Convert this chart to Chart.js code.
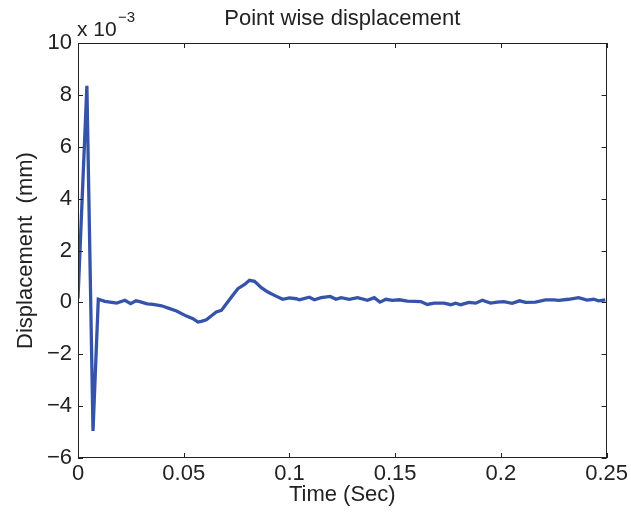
<!DOCTYPE html>
<html lang="en">
<head>
    <meta charset="UTF-8">
    <title>Point wise displacement</title>
    <script src="https://cdn.jsdelivr.net/npm/chart.js"></script>
    <style>
        body { margin: 0; background: #fff; }
        #wrap { width: 631px; height: 519px; }
    </style>
</head>
<body>
    <div id="wrap"><canvas id="dispChart" width="631" height="519"></canvas></div>
    <script>
// time in seconds, displacement in units of 1e-3 mm
const time = [0, 0.0042, 0.0071, 0.0096, 0.0127, 0.0183, 0.0222, 0.0249, 0.0274, 0.0292,
    0.0327, 0.0355, 0.0395, 0.0434, 0.0466, 0.0513, 0.0544, 0.0567, 0.0583, 0.0607,
    0.0654, 0.0678, 0.0693, 0.0725, 0.0756, 0.0788, 0.0811, 0.0835, 0.0867, 0.0898,
    0.0929, 0.0968, 0.1000, 0.1032, 0.1047, 0.1094, 0.1118, 0.1150, 0.1193, 0.1220,
    0.1244, 0.1283, 0.1322, 0.1369, 0.1401, 0.1428, 0.1456, 0.1487, 0.1519, 0.1558,
    0.1621, 0.1652, 0.1684, 0.1731, 0.1763, 0.1786, 0.1810, 0.1849, 0.1881, 0.1912,
    0.1951, 0.1983, 0.2014, 0.2053, 0.2088, 0.2117, 0.2164, 0.2211, 0.2250, 0.2274,
    0.2321, 0.2368, 0.2407, 0.2439, 0.2462, 0.2494];
const displacement = [0.15, 8.35, -4.96, 0.12, 0.04, -0.03, 0.08, -0.05, 0.06, 0.03,
    -0.06, -0.08, -0.13, -0.24, -0.33, -0.53, -0.63, -0.76, -0.73, -0.67,
    -0.37, -0.31, -0.15, 0.2, 0.53, 0.69, 0.85, 0.81, 0.57, 0.4,
    0.27, 0.12, 0.17, 0.14, 0.1, 0.2, 0.1, 0.18, 0.23, 0.12,
    0.18, 0.12, 0.18, 0.08, 0.18, 0.01, 0.12, 0.08, 0.1, 0.05,
    0.03, -0.08, -0.03, -0.03, -0.09, -0.03, -0.09, 0, -0.03, 0.08,
    -0.03, 0.01, 0.03, -0.04, 0.06, 0, 0.01, 0.1, 0.1, 0.08,
    0.12, 0.18, 0.09, 0.12, 0.06, 0.1];

const xTicks = [0, 0.05, 0.1, 0.15, 0.2, 0.25];
const yTicks = [-6, -4, -2, 0, 2, 4, 6, 8, 10];

const FONT = '"Liberation Sans", Arial, Helvetica, sans-serif';

// box with inward ticks on all four sides, like matlab
const boxTicks = {
    id: 'boxTicks',
    afterDatasetsDraw(chart) {
        const { ctx, chartArea: a, scales: { x, y } } = chart;
        const len = 5;
        ctx.save();
        ctx.strokeStyle = '#222';
        ctx.lineWidth = 1;
        ctx.strokeRect(Math.round(a.left) + 0.5, Math.round(a.top) + 0.5,
            Math.round(a.width) - 1, Math.round(a.height) - 1);
        ctx.beginPath();
        xTicks.forEach(v => {
            const px = Math.round(x.getPixelForValue(v)) + 0.5;
            ctx.moveTo(px, a.bottom); ctx.lineTo(px, a.bottom - len);
            ctx.moveTo(px, a.top); ctx.lineTo(px, a.top + len);
        });
        yTicks.forEach(v => {
            const py = Math.round(y.getPixelForValue(v)) + 0.5;
            ctx.moveTo(a.left, py); ctx.lineTo(a.left + len, py);
            ctx.moveTo(a.right, py); ctx.lineTo(a.right - len, py);
        });
        ctx.stroke();
        ctx.restore();
    }
};

// title, axis labels and the exponent note
const labels = {
    id: 'labels',
    afterDraw(chart) {
        const { ctx, chartArea: a } = chart;
        const cx = (a.left + a.right) / 2;
        ctx.save();
        ctx.fillStyle = '#222';
        ctx.textAlign = 'center';
        ctx.textBaseline = 'middle';
        ctx.font = '22px ' + FONT;
        ctx.fillText('Point wise displacement', cx, 19);
        ctx.fillText('Time (Sec)', cx, 495);
        ctx.save();
        ctx.translate(26, (a.top + a.bottom) / 2);
        ctx.rotate(-Math.PI / 2);
        ctx.fillText('Displacement  (mm)', 0, 0);
        ctx.restore();
        ctx.textAlign = 'left';
        ctx.textBaseline = 'alphabetic';
        ctx.font = '21px ' + FONT;
        ctx.fillText('x 10', 77, 36);
        ctx.font = '15px ' + FONT;
        ctx.fillText('\u22123', 118, 22);
        ctx.restore();
    }
};

const ctx = document.getElementById('dispChart').getContext('2d');
new Chart(ctx, {
    type: 'line',
    data: {
        datasets: [{
            data: time.map((t, i) => ({ x: t, y: displacement[i] })),
            borderColor: '#3553a9',
            borderWidth: 3.3,
            pointRadius: 0,
            tension: 0,
            fill: false
        }]
    },
    options: {
        responsive: false,
        animation: false,
        layout: { padding: { top: 43, right: 23, left: 0, bottom: 0 } },
        plugins: { legend: { display: false }, tooltip: { enabled: false } },
        scales: {
            x: {
                type: 'linear',
                min: 0,
                max: 0.25,
                afterBuildTicks: s => { s.ticks = xTicks.map(v => ({ value: v })); },
                afterFit: s => { s.height = 61; },
                grid: { display: false, drawTicks: false },
                border: { display: false },
                ticks: {
                    color: '#222',
                    padding: 3,
                    maxRotation: 0,
                    font: { family: FONT, size: 22 },
                    callback: v => String(+v.toFixed(2))
                }
            },
            y: {
                min: -6,
                max: 10,
                afterBuildTicks: s => { s.ticks = yTicks.map(v => ({ value: v })); },
                afterFit: s => { s.width = 78; },
                grid: { display: false, drawTicks: false },
                border: { display: false },
                ticks: {
                    color: '#222',
                    padding: 6,
                    font: { family: FONT, size: 22 },
                    callback: v => (v < 0 ? '\u2212' + Math.abs(v) : String(v))
                }
            }
        }
    },
    plugins: [boxTicks, labels]
});
    </script>
</body>
</html>
